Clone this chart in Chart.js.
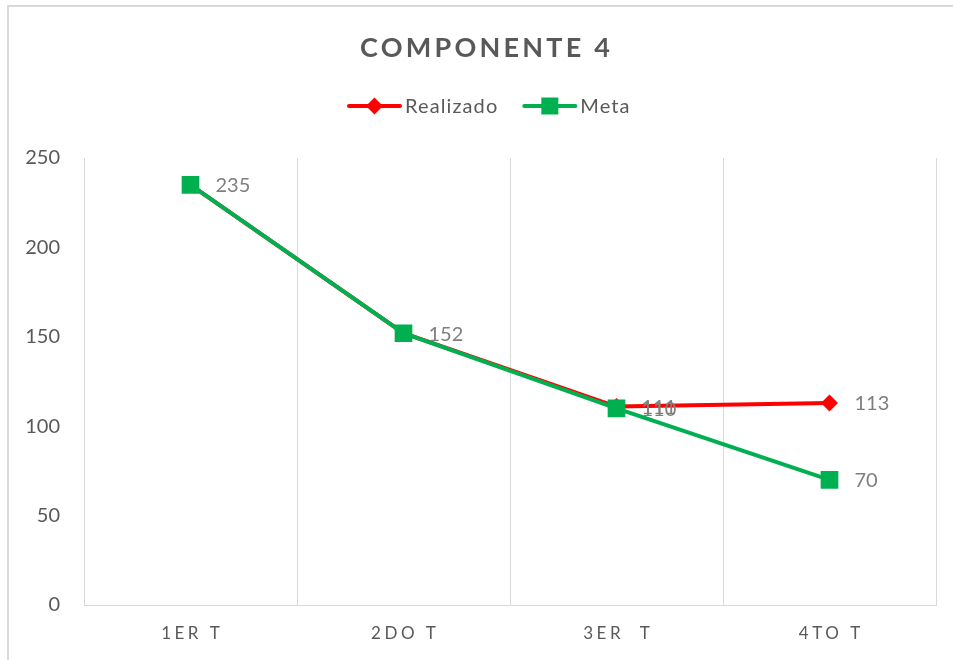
<!DOCTYPE html>
<html>
<head>
<meta charset="utf-8">
<script src="https://cdn.jsdelivr.net/npm/chart.js@4"></script>
<style>
  html, body { margin: 0; padding: 0; background: #ffffff; }
  #wrap { width: 953px; height: 660px; position: relative; }
</style>
</head>
<body>
<div id="wrap"><canvas id="c" width="953" height="660"></canvas></div>
<script>
const chartTitle = "COMPONENTE 4";
const categories = ["1ER T", "2DO T", "3ER  T", "4TO T"];
const realizado = [235, 152, 111, 113];
const meta = [235, 152, 110, 70];
const yTicks = [0, 50, 100, 150, 200, 250];
const seriesNames = ["Realizado", "Meta"];

const FONT = "Lato, 'Open Sans', 'Liberation Sans', sans-serif";
const RED = "#ff0000";
const GREEN = "#00b050";
const TEXT = "#595959";
const LABEL = "#7f7f7f";
const GRID = "#d9d9d9";

function drawMarker(ctx, style, x, y, color) {
  ctx.fillStyle = color;
  ctx.beginPath();
  if (style === 'rectRot') {
    const r = 8.5;
    ctx.moveTo(x - r, y); ctx.lineTo(x, y - r); ctx.lineTo(x + r, y); ctx.lineTo(x, y + r);
    ctx.closePath();
  } else {
    const s = 8.5;
    ctx.rect(x - s, y - s, 2 * s, 2 * s);
  }
  ctx.fill();
}

const overlay = {
  id: 'overlay',
  afterDraw(chart) {
    const ctx = chart.ctx;
    const area = chart.chartArea;
    ctx.save();
    // outer frame
    ctx.strokeStyle = GRID;
    ctx.lineWidth = 2;
    ctx.strokeRect(8, 6, 1000, 700);

    // title
    ctx.fillStyle = TEXT;
    ctx.font = "bold 27px " + FONT;
    ctx.textBaseline = 'alphabetic';
    ctx.textAlign = 'left';
    ctx.letterSpacing = '0px';
    const w0 = ctx.measureText(chartTitle).width;
    const spacing = Math.max(0, (250 - w0) / (chartTitle.length - 1));
    ctx.letterSpacing = spacing.toFixed(2) + 'px';
    const wT = ctx.measureText(chartTitle).width - spacing;
    ctx.fillText(chartTitle, 485 - wT / 2, 57);
    ctx.letterSpacing = '0px';

    // legend
    ctx.font = "20px " + FONT;
    ctx.textBaseline = 'middle';
    ctx.letterSpacing = '1.1px';
    const legendItems = [
      {name: seriesNames[0], color: RED, style: 'rectRot'},
      {name: seriesNames[1], color: GREEN, style: 'rect'}
    ];
    let lx = 347;
    const ly = 106;
    legendItems.forEach(it => {
      ctx.strokeStyle = it.color;
      ctx.lineWidth = 4;
      ctx.lineCap = 'round';
      ctx.beginPath();
      ctx.moveTo(lx + 2, ly); ctx.lineTo(lx + 53, ly);
      ctx.stroke();
      drawMarker(ctx, it.style, lx + 27.5, ly, it.color);
      ctx.fillStyle = TEXT;
      ctx.fillText(it.name, lx + 58, ly + 1);
      lx += 58 + ctx.measureText(it.name).width + 24;
    });
    ctx.letterSpacing = '0px';

    // x category labels (letter-spaced)
    const xs = chart.scales.x;
    ctx.font = "17px " + FONT;
    ctx.fillStyle = TEXT;
    ctx.textBaseline = 'middle';
    ctx.letterSpacing = '3.5px';
    categories.forEach((c, i) => {
      const px = xs.getPixelForValue(i);
      const w = ctx.measureText(c).width - 3.5;
      ctx.fillText(c, px - w / 2, area.bottom + 29);
    });
    ctx.letterSpacing = '0px';

    // data labels
    ctx.font = "20px " + FONT;
    ctx.fillStyle = LABEL;
    ctx.textAlign = 'left';
    ctx.textBaseline = 'middle';
    [0, 1].forEach(di => {
      const m = chart.getDatasetMeta(di);
      const data = chart.data.datasets[di].data;
      m.data.forEach((pt, i) => {
        if (di === 1 && i < 2) return; // identical to first series, drawn once
        ctx.fillText(String(data[i]), pt.x + 25, pt.y + 1);
      });
    });
    ctx.restore();
  }
};

new Chart(document.getElementById('c'), {
  type: 'line',
  data: {
    labels: categories,
    datasets: [
      {
        label: seriesNames[0],
        data: realizado,
        borderColor: RED,
        backgroundColor: RED,
        borderWidth: 4,
        pointStyle: 'rectRot',
        pointRadius: 8.5,
        pointHoverRadius: 8.5,
        pointBorderWidth: 0,
        tension: 0,
        order: 1
      },
      {
        label: seriesNames[1],
        data: meta,
        borderColor: GREEN,
        backgroundColor: GREEN,
        borderWidth: 4,
        pointStyle: 'rect',
        pointRadius: 12.5,
        pointHoverRadius: 12.5,
        pointBorderWidth: 0,
        tension: 0,
        order: 0
      }
    ]
  },
  options: {
    responsive: false,
    animation: false,
    devicePixelRatio: 1,
    events: [],
    layout: { padding: { top: 158, right: 17, bottom: 55, left: 0 } },
    plugins: {
      legend: { display: false },
      title: { display: false },
      tooltip: { enabled: false }
    },
    scales: {
      x: {
        offset: true,
        grid: { offset: true, color: GRID, lineWidth: 1, drawTicks: false },
        border: { display: true, color: GRID, width: 1 },
        ticks: { display: false },
        afterFit(scale) { scale.height = 0; }
      },
      y: {
        min: 0,
        max: 250,
        afterBuildTicks(scale) { scale.ticks = yTicks.map(v => ({ value: v })); },
        ticks: {
          color: TEXT,
          font: { family: FONT, size: 20 },
          padding: 24
        },
        grid: { display: false, drawTicks: false },
        border: { display: false },
        afterFit(scale) { scale.width = 84; }
      }
    }
  },
  plugins: [overlay]
});
</script>
</body>
</html>
